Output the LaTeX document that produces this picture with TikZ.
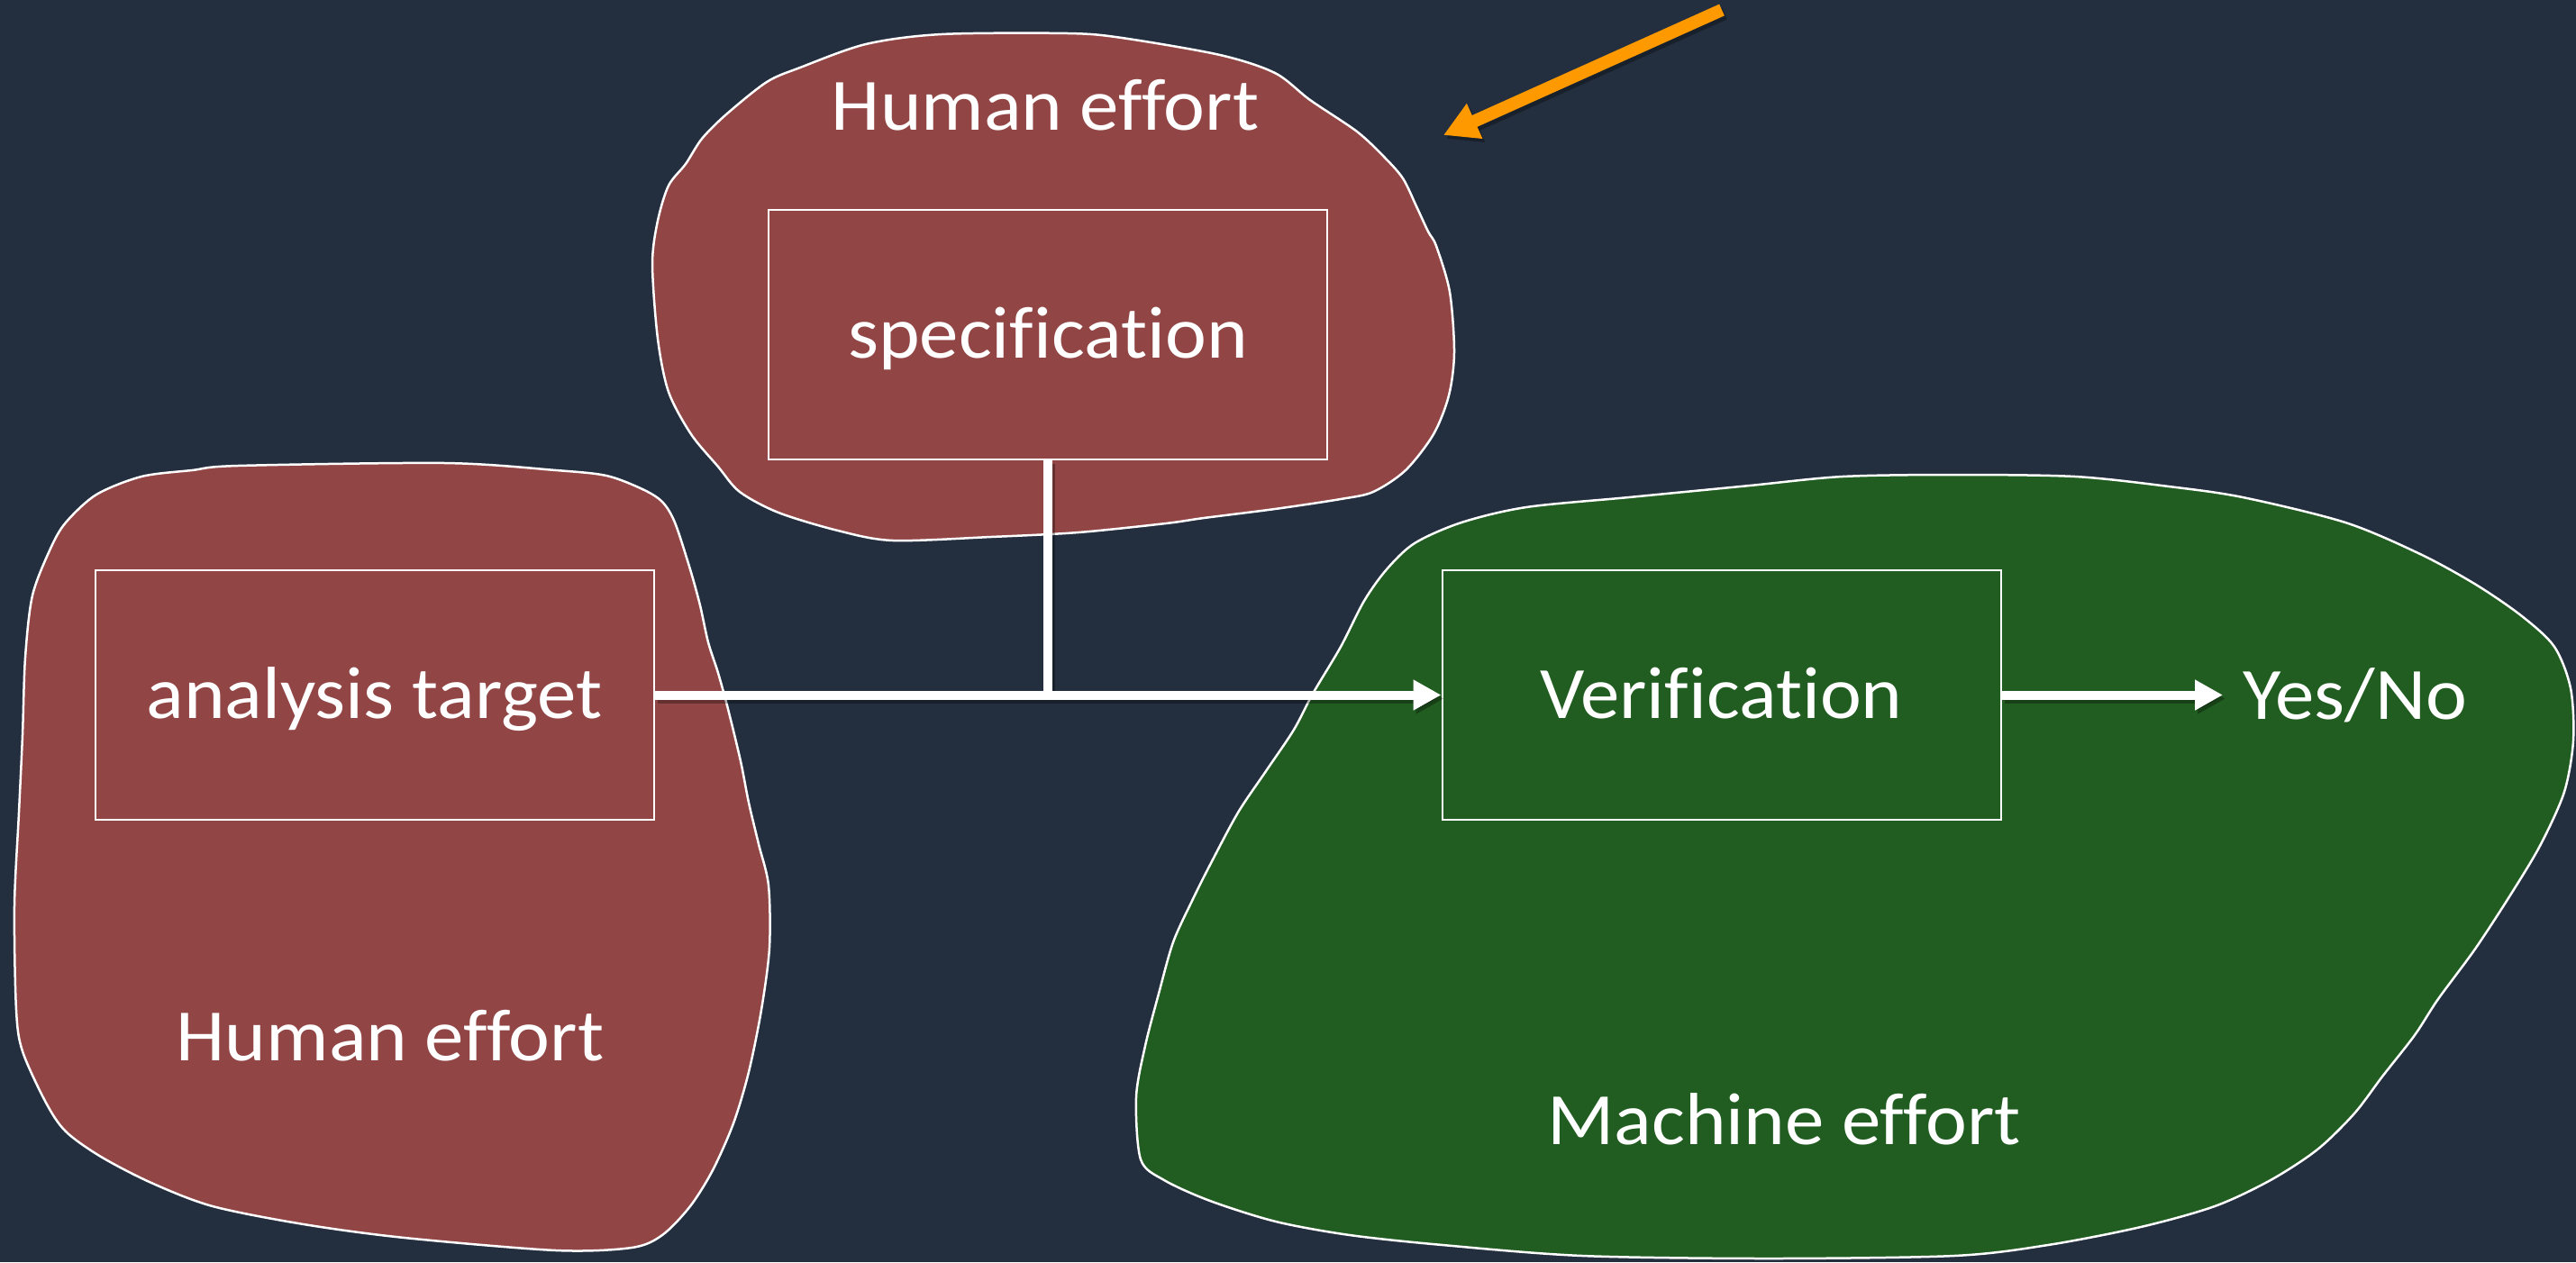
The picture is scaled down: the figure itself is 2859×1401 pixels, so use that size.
\documentclass[tikz,border=0pt]{standalone}
\usepackage{fontspec}
\setmainfont{Carlito}[Ligatures={TeX,NoCommon}, FakeStretch=1.06]
\usetikzlibrary{arrows.meta}

\definecolor{bg}{HTML}{232E3E}
\definecolor{humanred}{HTML}{914545}
\definecolor{machinegreen}{HTML}{215C21}
\definecolor{awsorange}{HTML}{FF9900}

\tikzset{
  blob/.style={draw=white, line width=2.5pt, line join=round},
  stagebox/.style={draw=white, line width=2pt, minimum width=620pt, minimum height=277pt,
    inner sep=0pt, text=white, font=\fontsize{82}{98}\selectfont,
    text height=52pt, text depth=0pt},
  caption/.style={text=white, font=\fontsize{82}{98}\selectfont, inner sep=0pt},
  flow/.style={draw=white, line width=10pt},
  flowarrow/.style={flow, -{Triangle[length=31pt,width=32pt]}},
  shade/.style={draw=black, opacity=0.3, transform canvas={shift={(3pt,-4pt)}}},
  pointer/.style={draw=awsorange, line width=14pt, -{Triangle[length=38pt,width=40pt]}},
}

\begin{document}
\begin{tikzpicture}[x=1pt, y=-1pt]
  % canvas
  \fill[bg] (0,0) rectangle (2859,1401);
  \useasboundingbox (0,0) rectangle (2859,1401);

  % hand-drawn regions
  \filldraw[blob, fill=humanred] plot[smooth cycle, tension=0.5] coordinates {
    (1045,38) (1185,37) (1245,42) (1354,61) (1415,81) (1454,111) (1506,146)
    (1536,174) (1557,198) (1572,229) (1585,257) (1594,273) (1609,324) (1614,391)
    (1608,439) (1591,482) (1560,522) (1524,546) (1488,554) (1415,565) (1336,575)
    (1294,581) (1197,591) (1100,596) (991,600) (930,589) (864,569) (821,546)
    (797,518) (767,482) (742,435) (730,376) (724,293) (730,245) (742,206)
    (761,182) (779,154) (806,127) (851,91) (888,75) (961,49)};

  \filldraw[blob, fill=humanred] plot[smooth cycle, tension=0.5] coordinates {
    (264,517) (494,514) (617,522) (673,528) (713,543) (735,557) (749,580)
    (766,632) (777,672) (786,713) (797,747) (808,787) (822,845) (831,891)
    (842,937) (853,983) (854,1052) (845,1121) (831,1190) (814,1247) (791,1299)
    (766,1339) (735,1371) (701,1385) (617,1388) (449,1374) (337,1359) (236,1339)
    (168,1313) (112,1284) (73,1256) (51,1224) (25,1167) (18,1121) (16,1006)
    (21,902) (25,816) (28,730) (36,661) (56,609) (73,580) (107,549) (157,529)
    (213,522)};

  \filldraw[blob, fill=machinegreen] plot[smooth cycle, tension=0.5] coordinates {
    (2169,527) (2303,529) (2407,540) (2489,552) (2603,580) (2686,615) (2748,649)
    (2799,684) (2835,718) (2853,764) (2856,822) (2846,879) (2820,937) (2789,989)
    (2748,1052) (2706,1109) (2680,1149) (2644,1195) (2613,1236) (2572,1276)
    (2520,1310) (2458,1339) (2376,1362) (2273,1382) (2169,1394) (1963,1397)
    (1756,1394) (1601,1382) (1498,1371) (1416,1356) (1343,1333) (1292,1310)
    (1266,1287) (1261,1218) (1271,1161) (1286,1103) (1302,1046) (1323,1000)
    (1343,960) (1374,902) (1405,856) (1436,810) (1457,770) (1488,718) (1514,667)
    (1539,632) (1570,603) (1622,580) (1694,563) (1808,552) (1942,539) (2045,529)};

  % region captions
  \node[caption, anchor=base] (humantop) at (1160,144) {Human effort};
  \node[caption, anchor=base] (humanbottom) at (433,1177) {Human effort};
  \node[caption, anchor=base] (machine) at (1980,1270) {Machine effort};

  % stages
  \node[stagebox] (spec) at (1163,371.5) {specification};
  \node[stagebox] (target) at (415.5,771.5) {analysis target};
  \node[stagebox] (verif) at (1910.5,771.5) {Verification};
  \node[caption, anchor=base west] (result) at (2489,798) {Yes/No};

  % connector shadows
  \draw[shade, line width=10pt] (spec.south) -- (spec.south |- target.east);
  \draw[shade, line width=10pt, -{Triangle[length=31pt,width=32pt]}] (target.east) -- (verif.west);
  \draw[shade, line width=10pt, -{Triangle[length=31pt,width=32pt]}, shorten >=22pt] (verif.east) -- (result.west |- verif.east);

  % connectors
  \draw[flow] (spec.south) -- (spec.south |- target.east);
  \draw[flowarrow] (target.east) -- (verif.west);
  \draw[flowarrow, shorten >=22pt] (verif.east) -- (result.west |- verif.east);

  % highlight arrow
  \coordinate (pointtail) at (1911,11);
  \coordinate (pointtip) at (1602,150);
  \draw[shade, line width=14pt, -{Triangle[length=38pt,width=40pt]}] (pointtail) -- (pointtip);
  \draw[pointer] (pointtail) -- (pointtip);
\end{tikzpicture}
\end{document}
